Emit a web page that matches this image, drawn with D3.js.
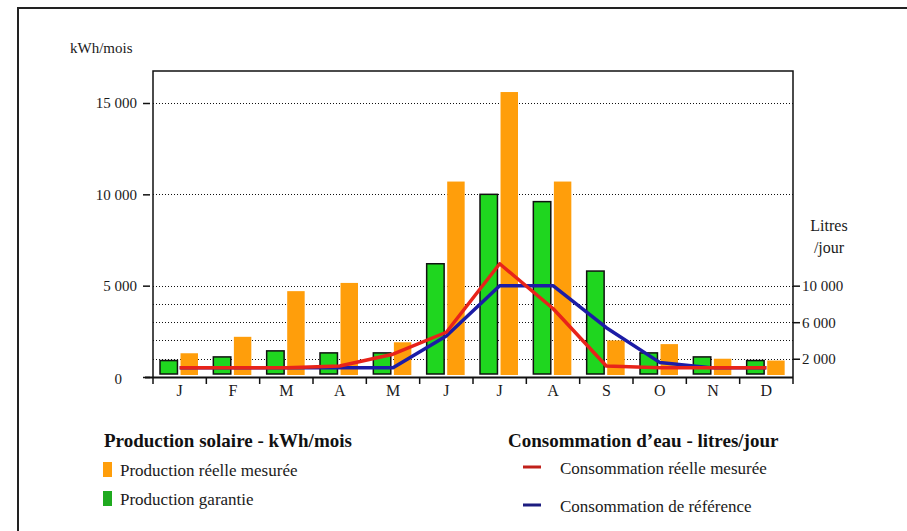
<!DOCTYPE html>
<html>
<head>
<meta charset="utf-8">
<script src="https://cdnjs.cloudflare.com/ajax/libs/d3/7.8.5/d3.min.js"></script>
<style>
  body { margin: 0; background: #fff; }
</style>
</head>
<body>
<div id="chart"></div>
<script>
(function(){

	// data
	var months = ["J","F","M","A","M","J","J","A","S","O","N","D"];
	var prodReelle   = [1300, 2200, 4700, 5150, 1900, 10700, 15600, 10700, 2000, 1800, 1000, 900];
	var prodGarantie = [900, 1100, 1430, 1320, 1320, 6200, 10000, 9600, 5800, 1320, 1100, 900];
	var consoReelle  = [1000, 1000, 1000, 1200, 2500, 4900, 12400, 7500, 1200, 1000, 1000, 1000];
	var consoRef     = [1000, 1000, 1000, 1000, 1000, 4500, 10000, 10000, 5400, 1600, 1000, 1000];
	var leftTicks  = [5000, 10000, 15000];
	var rightTicks = [2000, 6000, 10000];
	var rightGrid  = [2000, 4000, 6000, 8000, 10000];

	var width = 907, height = 531;
	var plot = {left:153, right:793, top:71, bottom:377};
	var SERIF = "'Liberation Serif', 'Times New Roman', 'DejaVu Serif', serif";

	var svg = d3.select("div#chart")
		.append("svg")
		.attr("width", width)
		.attr("height", height)
		.style("font-family", SERIF);

	// outer frame (open to the right and bottom, as cropped)
	svg.append("path")
		.attr("d","M18,531 V8 H907")
		.attr("fill","none")
		.attr("stroke","#222")
		.attr("stroke-width",2);

	var idx = d3.range(months.length);
	var x = d3.scaleBand().domain(idx).range([plot.left, plot.right]).padding(0);
	var sub = d3.scaleBand().domain(["g","o"]).range([7, 45]).paddingInner(0.15);
	var yL = d3.scaleLinear().domain([0,15000]).range([plot.bottom, 103]);
	var yR = d3.scaleLinear().domain([0,30000]).range([plot.bottom, 103]);

	var fr = d3.formatLocale({decimal:",", thousands:"\u00a0", grouping:[3], currency:["","€"]}).format(",");

	// gridlines
	var grid = svg.append("g").attr("stroke","#111").attr("stroke-dasharray","1,2").attr("stroke-width",1);
	leftTicks.forEach(function(v){
		grid.append("line").attr("x1",plot.left).attr("x2",plot.right)
			.attr("y1",Math.round(yL(v))+0.5).attr("y2",Math.round(yL(v))+0.5);
	});
	rightGrid.forEach(function(v){
		grid.append("line").attr("x1",plot.left).attr("x2",plot.right)
			.attr("y1",Math.round(yR(v))+0.5).attr("y2",Math.round(yR(v))+0.5);
	});

	// plot box
	svg.append("path")
		.attr("d","M"+plot.left+","+plot.bottom+" V"+plot.top+" H"+plot.right+" V"+plot.bottom)
		.attr("fill","none").attr("stroke","#111").attr("stroke-width",1.5);

	// bars
	svg.selectAll(".garantie")
		.data(idx)
		.enter().append("rect")
		.attr("class","garantie")
		.attr("x", function(i){ return x(i)+sub("g"); })
		.attr("width", sub.bandwidth())
		.attr("y", function(i){ return yL(prodGarantie[i]); })
		.attr("height", function(i){ return plot.bottom - 3 - yL(prodGarantie[i]); })
		.attr("fill","#1fd61f")
		.attr("stroke","#111")
		.attr("stroke-width",1.5);

	svg.selectAll(".reelle")
		.data(idx)
		.enter().append("rect")
		.attr("class","reelle")
		.attr("x", function(i){ return x(i)+sub("o"); })
		.attr("width", sub.bandwidth())
		.attr("y", function(i){ return yL(prodReelle[i]); })
		.attr("height", function(i){ return plot.bottom - 2 - yL(prodReelle[i]); })
		.attr("fill","#ff9e0b");

	// lines
	var line = d3.line()
		.x(function(d,i){ return x(i)+x.bandwidth()/2; })
		.y(function(d){ return yR(d); });

	svg.append("path").datum(consoRef)
		.attr("d", line).attr("fill","none")
		.attr("stroke","#1c1ca6").attr("stroke-width",3.5).attr("stroke-linejoin","round");
	svg.append("path").datum(consoReelle)
		.attr("d", line).attr("fill","none")
		.attr("stroke","#e8231a").attr("stroke-width",3.5).attr("stroke-linejoin","round");

	// left axis
	var axL = svg.append("g")
		.attr("transform","translate("+(plot.left-3)+",0)")
		.call(d3.axisLeft(yL).tickValues([0].concat(leftTicks)).tickSize(7).tickFormat(fr));
	axL.attr("font-family", null).attr("font-size", null);
	axL.select(".domain").remove();
	axL.selectAll("line").attr("stroke","#111").attr("stroke-width",1.5);
	axL.selectAll("text").style("font-size","15px").attr("fill","#1a1a1a").attr("x",-13);
	axL.selectAll(".tick").filter(function(d){ return d===0; }).select("text").attr("x",-28).attr("dy","0.45em");

	// right axis
	var axR = svg.append("g")
		.attr("transform","translate("+plot.right+",0)")
		.call(d3.axisRight(yR).tickValues(rightTicks).tickSize(7).tickFormat(fr));
	axR.attr("font-family", null).attr("font-size", null);
	axR.select(".domain").remove();
	axR.selectAll("line").attr("stroke","#111").attr("stroke-width",1.5);
	axR.selectAll("text").style("font-size","15px").attr("fill","#1a1a1a").attr("x",9);

	// x axis
	var axX = svg.append("g")
		.attr("transform","translate(0,"+plot.bottom+")")
		.call(d3.axisBottom(x).tickValues([]).tickSizeOuter(0));
	axX.select(".domain").attr("d","M145,0.5H"+plot.right).attr("stroke","#111").attr("stroke-width",2);
	svg.append("g").selectAll("line")
		.data(idx.concat([12]))
		.enter().append("line")
		.attr("x1", function(i){ return plot.left + i*x.step(); })
		.attr("x2", function(i){ return plot.left + i*x.step(); })
		.attr("y1", plot.bottom).attr("y2", plot.bottom+7)
		.attr("stroke","#111").attr("stroke-width",1.5);
	svg.append("g").selectAll("text")
		.data(idx)
		.enter().append("text")
		.attr("x", function(i){ return x(i)+x.bandwidth()/2; })
		.attr("y", 396)
		.attr("text-anchor","middle")
		.style("font-size","16px")
		.attr("fill","#1a1a1a")
		.text(function(i){ return months[i]; });

	// axis titles
	svg.append("text").attr("x",70).attr("y",53).style("font-size","15px").attr("fill","#1a1a1a").text("kWh/mois");
	svg.append("text").attr("x",829).attr("y",231).attr("text-anchor","middle").style("font-size","16px").attr("fill","#1a1a1a").text("Litres");
	svg.append("text").attr("x",829).attr("y",253).attr("text-anchor","middle").style("font-size","16px").attr("fill","#1a1a1a").text("/jour");

	// legend
	svg.append("text").attr("x",104).attr("y",447).style("font-size","19px").attr("font-weight","bold").attr("fill","#111").text("Production solaire - kWh/mois");
	svg.append("text").attr("x",508).attr("y",447).style("font-size","19px").attr("font-weight","bold").attr("fill","#111").text("Consommation d\u2019eau - litres/jour");

	var legBars = [{label:"Production réelle mesurée", color:"#ff9e0b", y:462},
	               {label:"Production garantie", color:"#1faa1f", y:491}];
	legBars.forEach(function(d){
		svg.append("rect").attr("x",103).attr("y",d.y).attr("width",9).attr("height",15).attr("fill",d.color);
		svg.append("text").attr("x",120).attr("y",d.y+14).style("font-size","17px").attr("fill","#1a1a1a").text(d.label);
	});
	var legLines = [{label:"Consommation réelle mesurée", color:"#c0201a", y:467},
	                {label:"Consommation de référence", color:"#1c1c80", y:505}];
	legLines.forEach(function(d){
		svg.append("line").attr("x1",523).attr("x2",541).attr("y1",d.y).attr("y2",d.y)
			.attr("stroke",d.color).attr("stroke-width",3);
		svg.append("text").attr("x",560).attr("y",d.y+7).style("font-size","17px").attr("fill","#1a1a1a").text(d.label);
	});

})();
</script>
</body>
</html>
